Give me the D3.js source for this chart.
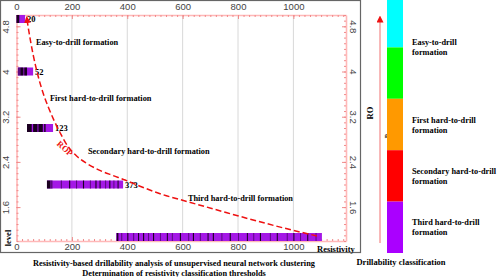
<!DOCTYPE html>
<html><head><meta charset="utf-8">
<script src="https://cdn.jsdelivr.net/npm/d3@7"></script>
<style>
body{margin:0;background:#fff;}
svg{display:block;}
</style></head>
<body><svg id="c" width="498" height="277"></svg>
<script>
// ---------- data ----------
const xTicks = [0,200,400,600,800,1000];
const yTicks = [1.6,2.4,3.2,4,4.8];
const barLevels = [5,4,3,2,1];
const barLabels = ["20","52","123","373",""];
const barStart = [0,5,38,110,360];
const barEnd = [31,60,132,385,1103];
// dark stripes per bar: [from, to, shade(0 black,1 dark purple)]
const barStripes = [
  [[0,10,0]],
  [[5,14,1],[14,25,0],[28,38,0]],
  [[38,55,0],[60,75,0],[75,80,1],[80,95,0],[100,105,0]],
  [[110,122,0],[122,130,1],[160,164,1],[190,194,0],[215,218,1],[240,244,0],[265,268,1],[285,289,0],[300,303,0],[320,323,1],[335,339,0],[350,353,1],[365,368,0]],
  [[362,368,0],[378,382,1],[400,404,0],[421,425,1],[439,442,0],[457,461,0],[475,478,1],[493,497,0],[518,521,1],[543,546,0],[561,564,1],[590,594,0],[620,623,1],[637,641,0],[662,666,1],[690,693,0],[709,713,0],[740,743,1],[770,774,0],[800,803,1],[832,835,0],[855,858,1],[879,883,0],[915,918,1],[940,943,0],[976,979,1],[1000,1003,0],[1024,1027,1],[1050,1053,0],[1080,1083,1]]
];
const ropX = [38,45,60,78,96,114,135,157,185,218,255,301,348,392,446,529,615,760,879,998,1085];
const ropY = [4.92,4.7,4.3,3.92,3.62,3.38,3.14,2.92,2.68,2.5,2.37,2.25,2.16,2.08,1.97,1.82,1.7,1.5,1.34,1.19,1.09];
const zoneNames = ["Easy-to-drill formation","First hard-to-drill formation","Secondary hard-to-drill formation","Third hard-to-drill formation"];
const zoneX = [70,121,258,619];
const zoneLevel = [4.47,3.48,2.54,1.71];
const classes = ["c1","c2","c3","c4","c5"];
const classColors = ["#00ffff","#00ff00","#ff9900","#ff0000","#aa00ff"];
const classLabels = [["Easy-to-drill","formation"],["First hard-to-drill","formation"],["Secondary hard-to-drill","formation"],["Third hard-to-drill","formation"]];

// ---------- drawing ----------
const svg = d3.select("#c");
const serif = "'Liberation Serif','Times New Roman',serif";
const sans = "'Liberation Sans',Arial,sans-serif";
const L=16.5,R=346,T=15,B=241;
const x = d3.scaleLinear().domain([0,1190]).range([L,R]);
const y = d3.scaleLinear().domain([1,5]).range([B,T]);
const fmt = d => String(d);

// frame
svg.append("rect").attr("x",0.5).attr("y",0.5).attr("width",360).attr("height",252)
  .attr("fill","none").attr("stroke","#666").attr("stroke-width",1.2);

// gridlines
svg.append("g").selectAll("line").data(xTicks.filter(d=>d>0)).join("line")
  .attr("x1",d=>x(d)).attr("x2",d=>x(d)).attr("y1",T).attr("y2",B)
  .attr("stroke","#d8d8d8").attr("stroke-width",1);

const pinkLine="#ffb8b8", pinkTick="#f08a8a";
function styleAxis(g){
  g.select(".domain").attr("stroke",pinkLine).attr("stroke-width",1.6);
  g.selectAll(".tick line").attr("stroke",pinkTick);
  g.selectAll("text").attr("fill","#444").attr("font-family",sans).attr("font-size",9.5);
}
const minorX = d3.range(0,1191,20);
const minorY = d3.range(1,5.001,0.1);

// top axis
svg.append("g").attr("transform",`translate(0,${T})`)
  .call(d3.axisTop(x).tickValues(minorX).tickSize(-2).tickSizeOuter(0).tickFormat(""))
  .call(styleAxis);
svg.append("g").attr("transform",`translate(0,${T})`)
  .call(d3.axisTop(x).tickValues(xTicks).tickFormat(fmt).tickSize(-4).tickSizeOuter(0).tickPadding(5.5))
  .call(styleAxis).call(g=>g.select(".domain").remove());
// bottom axis
svg.append("g").attr("transform",`translate(0,${B})`)
  .call(d3.axisBottom(x).tickValues(minorX).tickSize(-2).tickSizeOuter(0).tickFormat(""))
  .call(styleAxis);
svg.append("g").attr("transform",`translate(0,${B})`)
  .call(d3.axisBottom(x).tickValues(xTicks).tickFormat(fmt).tickSize(-4).tickSizeOuter(0).tickPadding(2))
  .call(styleAxis).call(g=>g.select(".domain").remove());
// left axis
svg.append("g").attr("transform",`translate(${L},0)`)
  .call(d3.axisLeft(y).tickValues(minorY).tickSize(-2).tickSizeOuter(0).tickFormat(""))
  .call(styleAxis);
svg.append("g").attr("transform",`translate(${L},0)`)
  .call(d3.axisLeft(y).tickValues(yTicks).tickFormat(fmt).tickSize(-4).tickSizeOuter(0))
  .call(styleAxis).call(g=>g.select(".domain").remove())
  .call(g=>g.selectAll("text").attr("x",null).attr("dy",null).attr("text-anchor","middle")
     .attr("transform","translate(-8,0) rotate(-90)"));
// right axis
svg.append("g").attr("transform",`translate(${R},0)`)
  .call(d3.axisRight(y).tickValues(minorY).tickSize(-2).tickSizeOuter(0).tickFormat(""))
  .call(styleAxis);
svg.append("g").attr("transform",`translate(${R},0)`)
  .call(d3.axisRight(y).tickValues(yTicks).tickFormat(fmt).tickSize(-4).tickSizeOuter(0))
  .call(styleAxis).call(g=>g.select(".domain").remove())
  .call(g=>g.selectAll("text").attr("x",null).attr("dy",null).attr("text-anchor","middle")
     .attr("transform","translate(3.5,0) rotate(90)"));

// bars
const barH = 8;
const barY = lv => Math.min(Math.max(y(lv)-barH/2, T), B-barH);
const bars = svg.append("g");
barLevels.forEach((lv,i)=>{
  const g = bars.append("g");
  g.append("rect").attr("x",x(barStart[i])).attr("y",barY(lv))
    .attr("width",x(barEnd[i])-x(barStart[i])).attr("height",barH).attr("fill","#a418e6");
  g.selectAll("rect.s").data(barStripes[i]).join("rect").attr("class","s")
    .attr("x",d=>x(d[0])).attr("y",barY(lv)).attr("width",d=>Math.max(1,x(d[1])-x(d[0])))
    .attr("height",barH).attr("fill",d=>d[2]===0?"#1a0020":"#5c0a80");
  if(barLabels[i]) g.append("text").attr("x",x(barEnd[i])+2).attr("y",barY(lv)+barH/2+3)
    .attr("font-family",serif).attr("font-weight","bold").attr("font-size",8.5)
    .text(barLabels[i]);
});

// ROP curve
const defs = svg.append("defs");
defs.append("marker").attr("id","arr").attr("viewBox","0 0 10 10").attr("refX",5).attr("refY",5)
  .attr("markerWidth",7).attr("markerHeight",7).attr("orient","auto-start-reverse")
  .attr("markerUnits","userSpaceOnUse")
  .append("path").attr("d","M0,0L10,5L0,10z").attr("fill","#ee1111");
const ropPts = ropX.map((v,i)=>[v,ropY[i]]);
svg.append("path").datum(ropPts)
  .attr("d",d3.line().x(d=>x(d[0])).y(d=>y(d[1])).curve(d3.curveMonotoneX))
  .attr("fill","none").attr("stroke","#ee1111").attr("stroke-width",1.5)
  .attr("stroke-dasharray","6,3").attr("marker-start","url(#arr)");
svg.append("text").attr("transform",`translate(${x(168)},${y(2.6)}) rotate(42)`)
  .attr("text-anchor","middle").attr("font-family",serif).attr("font-weight","bold")
  .attr("font-size",8.5).attr("fill","#ee1111").text("ROP");

// zone annotations
svg.append("g").selectAll("text").data(zoneNames).join("text")
  .attr("x",(d,i)=>x(zoneX[i])).attr("y",(d,i)=>y(zoneLevel[i]))
  .attr("font-family",serif).attr("font-weight","bold").attr("font-size",8.3).text(d=>d);

// axis titles
svg.append("text").attr("transform","translate(11,238) rotate(-90)").attr("text-anchor","middle")
  .attr("font-family",serif).attr("font-weight","bold").attr("font-size",8.5).text("level");
svg.append("text").attr("x",317).attr("y",252).attr("font-family",serif).attr("font-weight","bold")
  .attr("font-size",8.5).text("Resistivity");
svg.append("text").attr("x",174).attr("y",266).attr("text-anchor","middle").attr("font-family",serif)
  .attr("font-weight","bold").attr("font-size",8.3)
  .text("Resistivity-based drillability analysis of unsupervised neural network clustering");
svg.append("text").attr("x",174).attr("y",276).attr("text-anchor","middle").attr("font-family",serif)
  .attr("font-weight","bold").attr("font-size",8.3)
  .text("Determination of resistivity classification thresholds");

// right panel: ROP arrow
svg.append("line").attr("x1",380).attr("x2",380).attr("y1",243).attr("y2",19)
  .attr("stroke","#f07070").attr("stroke-width",1).attr("marker-end","url(#arr)");
svg.append("text").attr("transform","translate(373,113) rotate(-90)").attr("text-anchor","middle")
  .attr("font-family",serif).attr("font-weight","bold").attr("font-size",8.5).text("RO");
svg.append("text").attr("transform","translate(389,136) rotate(-90)").attr("text-anchor","middle")
  .attr("font-family",serif).attr("font-weight","bold").attr("font-size",7).text("P");

// colour bar
const cb = d3.scaleBand().domain(classes).range([-4,253]);
svg.append("g").selectAll("rect").data(classes).join("rect")
  .attr("x",387).attr("width",16).attr("y",d=>cb(d)).attr("height",cb.bandwidth())
  .attr("fill",(d,i)=>classColors[i]);
const labelY = [cb("c2"), cb("c3")+cb.bandwidth()/2, cb("c4")+cb.bandwidth()/2, cb("c5")+cb.bandwidth()/2];
const lg = svg.append("g");
classLabels.forEach((lines,i)=>{
  const t = lg.append("text").attr("x",412).attr("y",labelY[i]-2)
    .attr("font-family",serif).attr("font-weight","bold").attr("font-size",8.3);
  lines.forEach((s,j)=>t.append("tspan").attr("x",412).attr("dy",j===0?0:10).text(s));
});
svg.append("text").attr("x",401).attr("y",265).attr("text-anchor","middle")
  .attr("font-family",serif).attr("font-weight","bold").attr("font-size",8.5)
  .text("Drillability classification");
</script></body></html>
